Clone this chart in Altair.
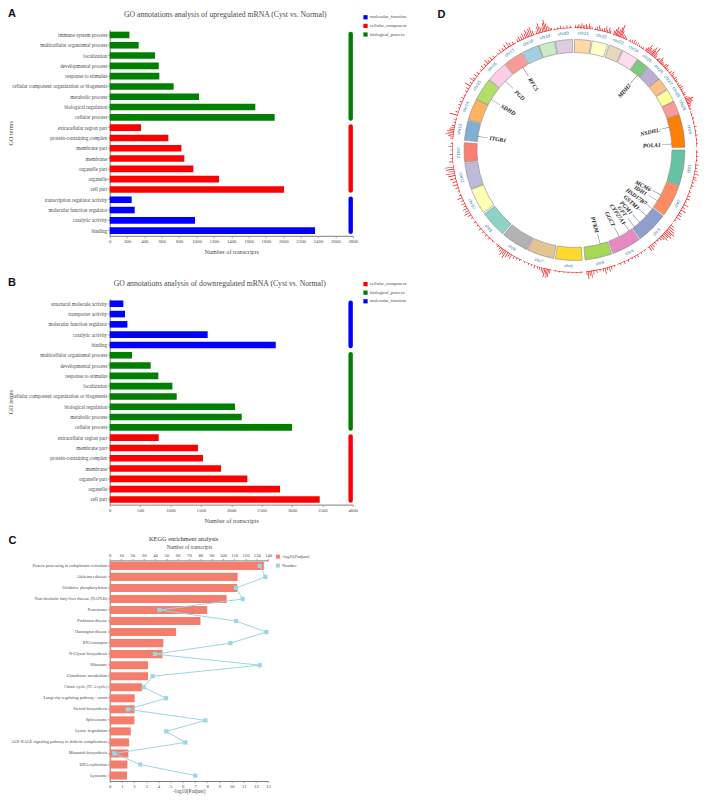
import math
import altair as alt
import pandas as pd

SERIF = "Liberation Serif"
SANS = "Liberation Sans"
TXT = "#4a4a4a"
AXC = "#808080"

# ---------- Panel A
a_terms = ["immune system process","multicellular organismal process","localization","developmental process","response to stimulus","cellular component organization or biogenesis","metabolic process","biological regulation","cellular process","extracellular region part","protein-containing complex","membrane part","membrane","organelle part","organelle","cell part","transcription regulator activity","molecular function regulator","catalytic activity","binding"]
a_values = [227,334,522,565,572,737,1029,1678,1901,361,676,826,860,964,1260,2009,253,288,983,2366]
a_groups = ["biological_process"]*9 + ["cellular_component"]*7 + ["molecular_function"]*4
a_legend = ["molecular_function","cellular_component","biological_process"]
a_ticks = [0,200,400,600,800,1000,1200,1400,1600,1800,2000,2200,2400,2600,2800]

# ---------- Panel B
b_terms = ["structural molecule activity","transporter activity","molecular function regulator","catalytic activity","binding","multicellular organismal process","developmental process","response to stimulus","localization","cellular component organization or biogenesis","biological regulation","metabolic process","cellular process","extracellular region part","membrane part","protein-containing complex","membrane","organelle part","organelle","cell part"]
b_values = [225,252,291,1613,2733,368,675,801,1032,1103,2063,2173,3001,807,1454,1536,1833,2266,2804,3457]
b_groups = ["molecular_function"]*5 + ["biological_process"]*8 + ["cellular_component"]*7
b_legend = ["cellular_component","biological_process","molecular_function"]
b_ticks = [0,500,1000,1500,2000,2500,3000,3500,4000]

GROUP_COLORS = {"molecular_function":"#0000ff","cellular_component":"#ff0000","biological_process":"#008000"}

# ---------- Panel C
c_terms = ["Protein processing in endoplasmic reticulum","Alzheimer disease","Oxidative phosphorylation","Non-alcoholic fatty liver disease (NAFLD)","Proteasome","Parkinson disease","Huntington disease","RNA transport","N-Glycan biosynthesis","Ribosome","Glutathione metabolism","Citrate cycle (TCA cycle)","Longevity regulating pathway - worm","Steroid biosynthesis","Spliceosome","Lysine degradation","AGE-RAGE signaling pathway in diabetic complications","Mismatch biosynthesis","DNA replication","Lysosome"]
c_padj = [12.65,10.5,10.47,9.6,8.0,7.45,5.45,4.4,4.33,3.15,3.15,2.66,2.05,2.05,2.03,1.73,1.6,1.53,1.45,1.42]
c_number = [132.6,137.6,111.7,117.6,43.9,111.7,138.5,106.7,40,132.6,38,30,49.8,16,84.6,50,66.9,4,27,75.7]
c_bottom_ticks = list(range(0,14))
c_top_ticks = list(range(0,141,10))

# ---------- Panel D
chr_names = ["chrX","chr1","chr2","chr3","chr4","chr5","chr6","chr7","chr8","chr9","chr10","chr11","chr12","chr13","chr14","chr15","chr16","chr17","chr18","chr19","chr20","chr21","chr22","chr23","chr24","chr25","chr26","chr27","chr28","chr29"]
chr_start = [71.3,90,109,126.7,144,160.3,176,190.9,205.5,220.7,235.6,249.5,263.6,275,286,297.6,309.7,321.3,332,341.3,350,0,9.2,18.3,26,35,41.9,50,57,64]
chr_end = [88.6,108.6,126,143.4,159.6,174.5,190,204.9,219.9,234.7,249,263,273.8,285.5,297.3,309.3,320.8,331.4,341,349.5,359,8.6,17.4,25.6,34.7,41.6,50,56.6,63.7,71]
chr_colors = ["#ff7f00","#66c2a5","#fc8d62","#8da0cb","#e78ac3","#a6d854","#ffd92f","#e5c494","#b3b3b3","#8dd3c7","#ffffb3","#bebada","#fb8072","#80b1d3","#fdb462","#b3de69","#fccde5","#fb9a99","#a6cee3","#ccebc5","#decbe4","#fed9a6","#ffffcc","#e5d8bd","#fddaec","#7fc97f","#beaed4","#fdc086","#ffff99","#fb9a99"]

spike_deg = [0.5,1.3,2.0,2.7,3.4,4.1,4.8,5.5,6.2,6.9,7.6,8.3,
 9.8,10.6,11.5,12.3,13.1,14,14.8,15.5,16.3,17,
 18.7,19.3,19.9,20.4,21,21.6,22.1,22.7,23.4,24.2,25,
 27,28,29,30,31,32,33,34,
 35.5,36,36.6,37.2,37.8,38.4,39,39.5,40.2,40.8,41.3,
 42.5,43,44,44.6,45.3,46,47,47.8,48.6,49.5,
 51,52,52.8,53.6,54.5,55.5,56.2,
 57.5,58.5,59.5,60.5,61.5,62.5,63.3,
 64.5,65.3,66,66.6,67.2,67.9,68.7,69.5,70.5,
 73,75,77,79,81,83,85,87,
 91,93,95,97,98.5,100,101.5,103,104,105.5,107,108,
 110,112,113.5,115,116.5,118,119.5,121,122,123.5,125,
 128,129,130,131,131.7,132.5,133.3,134.2,135,136,137.5,139,140.5,141.5,142.5,
 145,147,149,150.5,152,154,156,158,
 161,162.5,163.5,164.5,165.5,166.5,168,169.5,171,172,172.8,173.6,174.2,
 177,179,181,183,185,187,189,
 191.5,192.2,192.8,193.4,194,194.7,195.5,196.5,197.5,199,200.5,202,204,
 206.5,208,209.5,211,212,213,214,214.8,215.6,216.4,217.3,218.5,
 222,224,226,228,230,232,234,
 236.5,238,239.2,240.3,241.5,242.7,244,245.5,247,248.3,
 250.5,252,253.5,255,256.5,258,259,260,261,262,
 264.5,266,268,270,271.5,273,
 275.5,276.5,277.3,278,278.8,279.6,280.5,281.5,283,284.5,
 286.5,288,290,291.5,293,295,296.5,
 298.5,300,301.5,303,304.5,305.5,307,308.5,
 310.5,312,313.5,315,316,317.5,319,
 321.5,323,324.5,326,327.5,328.5,330,
 332.5,333.5,334.5,335.5,336.5,337.3,338,338.8,339.6,340.4,
 342,342.8,343.5,344.2,345,345.7,346.3,347,347.8,348.6,349.3,
 350.5,352,353.5,355,356.5,358]
spike_len = [3,2,4,2.5,5,3,3.5,4.5,3,5.5,3,2,
 2,3.5,5,3,2.5,4,6,3,5.5,3,
 4,6,9,5,7,10,13,7,4,3,2,
 2,3,4,2.5,3,2,1.5,2,
 3,5,9,6,4,7,10,6,11,5,3,
 2,4,6,4,3,2.5,4,5,2.5,2,
 3,5,3,2,3.5,2.5,2,
 2,3,4,3,2,3,2,
 3,5,8,6,7,4,3,2,2,
 1.5,2,1,2.5,1.5,2,1,1.5,
 1.5,2,1.5,3,2,3,5,3,4,2,2.5,1.5,
 2,3,4,2,5,3,6,3,4,5,2,
 4,6,8,10,7,9,6,8,5,3,2,3,4,6,5,
 1,2,3,2,1.5,2.5,3,2,
 2,3.5,5,3,6,3,2,3,4,7,5,8,4,
 1.5,1,1,1.5,1,1.5,1,
 4,8,9,6,9,5,4,3,2.5,3,2,2,1.5,
 2,2,3,5,4,6,8,5,7,4,3,2,
 1.5,2,2.5,2,3,2,2.5,
 2,4,6,4,5,3,4,3,5,2,
 2,3,5,4,6,7,9,6,8,9,
 4,2,3,2,4,2,
 3,5,8,6,7,5,4,3,2,3,
 8,3,2,3,2.5,3,2,
 2,3,6,3,5,3,4,3,
 2,4,3,5,3,4,3,
 2,4,3,5,6,4,3,
 3,5,4,6,5,8,6,8,9,5,
 3,7,10,6,5,9,12,8,5,3,2,
 1.5,2,3,2,3,2.5]

gene_names = ["MDH2","NSDHL","POLA1","ITGB1","SDHD","PGD","RFC5","MCM6","IDH1","HSD17B7","GSTM1","PGM1","GPT","CYP27A1","GGCT","PFKM"]
gene_deg = [40,76.5,86.5,278,301.3,315,328,117.5,121.5,127,132.5,138,142,146,152.7,164.7]

# ---------- helpers
one = pd.DataFrame({"a":[0]})
RAD = alt.Scale(type="linear", domain=[0,140], range=[0,140])
THE = alt.Scale(type="linear", domain=[0,360], range=[0,2*math.pi])

def letter(txt, dx, dy):
    return alt.Chart(one).mark_text(text=txt, font=SANS, fontWeight="bold", fontSize=11, align="left", baseline="top", color="#111").encode(x=alt.value(dx), y=alt.value(dy))

def head(txt, cx, cy, size, col=TXT):
    return alt.Chart(one).mark_text(text=txt, font=SERIF, fontSize=size, align="center", baseline="middle", color=col).encode(x=alt.value(cx), y=alt.value(cy))

def go_panel(terms, vals, groups, legend, ticks, xmax, rule_x, ttl, ltr, title_cx, title_cy, legend_y):
    df = pd.DataFrame({"term":terms,"n":vals,"group":groups})
    spans = []
    for g in legend:
        sub = [t for t,gg in zip(terms,groups) if gg==g]
        spans.append({"group":g,"first":sub[0],"last":sub[-1],"xx":rule_x})
    span = pd.DataFrame(spans)
    xscale = alt.Scale(domain=[0,xmax], nice=False)
    yscale = alt.Scale(domain=terms, paddingInner=0.36, paddingOuter=0.18)
    xaxis = alt.Axis(values=ticks, format="d", grid=False, labelFontSize=4.8, titleFontSize=6.2, titlePadding=5, labelFlush=False, labelOverlap=False, tickSize=2, labelPadding=1)
    yaxis = alt.Axis(grid=False, labelFontSize=5.15, titleFontSize=6.2, titleX=-96, tickSize=2, labelPadding=1, labelLimit=200, ticks=True)
    color = alt.Color("group:N", scale=alt.Scale(domain=legend, range=[GROUP_COLORS[g] for g in legend]),
        legend=alt.Legend(title=None, orient="none", legendX=253.3, legendY=legend_y, symbolType="square", symbolSize=18,
                          labelFontSize=4.6, labelFont=SERIF, labelColor=TXT, rowPadding=2.6, symbolStrokeWidth=0, labelOffset=2))
    bars = alt.Chart(df).mark_bar().encode(
        x=alt.X("n:Q", scale=xscale, title="Number of transcripts", axis=xaxis),
        y=alt.Y("term:N", scale=yscale, title="GO terms", axis=yaxis), color=color)
    rule = alt.Chart(span).mark_rule(strokeWidth=4.4, strokeCap="round", yOffset=-1.1, y2Offset=1.1).encode(
        x=alt.X("xx:Q", scale=xscale, title="Number of transcripts", axis=xaxis),
        y=alt.Y("first:N", scale=yscale, title="GO terms", axis=yaxis), y2=alt.Y2("last:N"), color=alt.Color("group:N"))
    return alt.layer(bars, rule, letter(ltr, -101.7, -21.8), head(ttl, title_cx, title_cy, 7.7)).properties(width=243, height=206)

A = go_panel(a_terms,a_values,a_groups,a_legend,a_ticks,2800,2777,"GO annotations analysis of upregulated mRNA (Cyst vs. Normal)","A",115.6,-14.8,-15)
B = go_panel(b_terms,b_values,b_groups,b_legend,b_ticks,4000,3966,"GO annotations analysis of downregulated mRNA (Cyst vs. Normal)","B",110,-15,-17)

# ---------- Panel C chart
cdf = pd.DataFrame({"term":c_terms,"padj":c_padj,"num":c_number,"idx":range(len(c_terms))})
c_yscale = alt.Scale(domain=c_terms, paddingInner=0.27, paddingOuter=0.13)
c_yaxis = alt.Axis(grid=False, labelFontSize=4.2, tickSize=2, labelPadding=1, labelLimit=200)
c_y = alt.Y("term:N", scale=c_yscale, title=None, axis=c_yaxis)
c_color = alt.Color("kind:N", scale=alt.Scale(domain=["-log10(Padjust)","Number"], range=["#f47e6e","#9ad6e4"]),
    legend=alt.Legend(title=None, orient="none", legendX=166, legendY=-6, symbolType="square", symbolSize=16, labelFontSize=4.4,
                      labelFont=SERIF, labelColor=TXT, rowPadding=3, labelOffset=2, symbolStrokeWidth=0))
c_bars = alt.Chart(cdf).transform_calculate(kind="'-log10(Padjust)'").mark_bar().encode(
    x=alt.X("padj:Q", scale=alt.Scale(domain=[0,13], nice=False), title="-log10(Padjust)",
            axis=alt.Axis(values=c_bottom_ticks, format="d", grid=False, labelFontSize=4.8, titleFontSize=5.2, tickSize=1.5, labelPadding=0.5, titlePadding=0.5, labelFlush=False)),
    y=c_y, color=c_color)
c_x2 = alt.X("num:Q", scale=alt.Scale(domain=[0,140], nice=False), title="Number of transcripts",
             axis=alt.Axis(orient="top", values=c_top_ticks, format="d", grid=False, labelFontSize=4.6, titleFontSize=5.2, tickSize=2, labelPadding=1, titlePadding=3, labelFlush=False))
c_line = alt.Chart(cdf).mark_line(strokeWidth=1, color="#9ad6e4").encode(
    x=c_x2, y=c_y, order="idx:Q")
c_pts = alt.Chart(cdf).transform_calculate(kind="'Number'").mark_point(shape="square", filled=True, size=18, opacity=1).encode(
    x=c_x2, y=c_y, color=c_color)
C = alt.layer(c_bars, alt.layer(c_line, c_pts), letter("C", -101.3, -25), head("KEGG enrichment analysis", 74, -21.7, 6.3, "#333")).resolve_scale(x="independent").properties(
    width=158.4, height=220.6)

# ---------- Panel D chart
cd = pd.DataFrame({"name":chr_names,"t0":chr_start,"t1":chr_end,"r0":[97.5]*30,"r1":[110.5]*30,"fill":chr_colors})
cd["mid"] = (cd.t0+cd.t1)/2
cd["rl"] = 116.5
cd["rot"] = [(m if (m<90 or m>270) else m-180) % 360 for m in cd.mid]
cd["b0"] = 122.0
cd["b1"] = 122.5
sd = pd.DataFrame({"deg":spike_deg,"len":spike_len})
sd["t0"] = sd.deg-0.14
sd["t1"] = sd.deg+0.14
sd["r0"] = 122.0
sd["r1"] = 122.0+sd.len
gd = pd.DataFrame({"gene":gene_names,"deg":gene_deg})
gd["t0"] = gd.deg-0.12
gd["t1"] = gd.deg+0.12
gd["r0"] = 87.0
gd["r1"] = 97.5
gd["rt"] = 77.5
gd["rot"] = [((d-90) if d<180 else (d-270)) % 360 for d in gd.deg]

th = lambda f: alt.Theta(f, scale=THE, stack=None)
ra = lambda f: alt.Radius(f, scale=RAD)

ring = alt.Chart(cd).mark_arc(stroke="#8a8a8a", strokeWidth=0.6).encode(
    theta=th("t0:Q"), theta2="t1:Q", radius=ra("r0:Q"), radius2="r1:Q",
    color=alt.Color("fill:N", scale=None))
base = alt.Chart(cd).mark_arc(color="#f00000").encode(
    theta=th("t0:Q"), theta2="t1:Q", radius=ra("b0:Q"), radius2="b1:Q")
spikes = alt.Chart(sd).mark_arc(color="#f00000").encode(
    theta=th("t0:Q"), theta2="t1:Q", radius=ra("r0:Q"), radius2="r1:Q")
chr_lab = alt.Chart(cd).mark_text(fontSize=4.4, font=SANS, color="#2a76ad").encode(
    theta=th("mid:Q"), radius=ra("rl:Q"), text="name:N", angle=alt.Angle("rot:Q", scale=None))
conn = alt.Chart(gd).mark_arc(color="#555555").encode(
    theta=th("t0:Q"), theta2="t1:Q", radius=ra("r0:Q"), radius2="r1:Q")
gene_lab = alt.Chart(gd).mark_text(fontSize=5.8, font=SERIF, fontStyle="italic", fontWeight="bold", color="#222").encode(
    theta=th("deg:Q"), radius=ra("rt:Q"), text="gene:N", angle=alt.Angle("rot:Q", scale=None))
D = alt.layer(ring, base, spikes, conn, chr_lab, gene_lab, letter("D", -7, -21)).properties(width=260, height=240.4)

spacer = alt.Chart(one).mark_point(opacity=0).encode(x=alt.value(0), y=alt.value(0)).properties(width=1, height=233.7)

chart = alt.concat(A, D, B, spacer, C, columns=2, spacing=alt.RowColnumber(row=27.8, column=91.8)).properties(
    bounds="flush", align="each",
    autosize=alt.AutoSizeParams(type="none"),
    padding={"left":101.7,"top":21.8,"right":590.3,"bottom":765.2}
).resolve_scale(color="independent", x="independent", y="independent", theta="independent", radius="independent").configure_view(stroke=None).configure_axis(
    domainColor=AXC, tickColor=AXC, labelColor=TXT, titleColor=TXT, labelFont=SERIF, titleFont=SERIF, titleFontWeight="normal", domainWidth=1, tickWidth=0.7
).configure_legend(padding=0).configure_title(font=SERIF)

chart.save("out.html", embed_options={"renderer": "svg", "actions": False})
